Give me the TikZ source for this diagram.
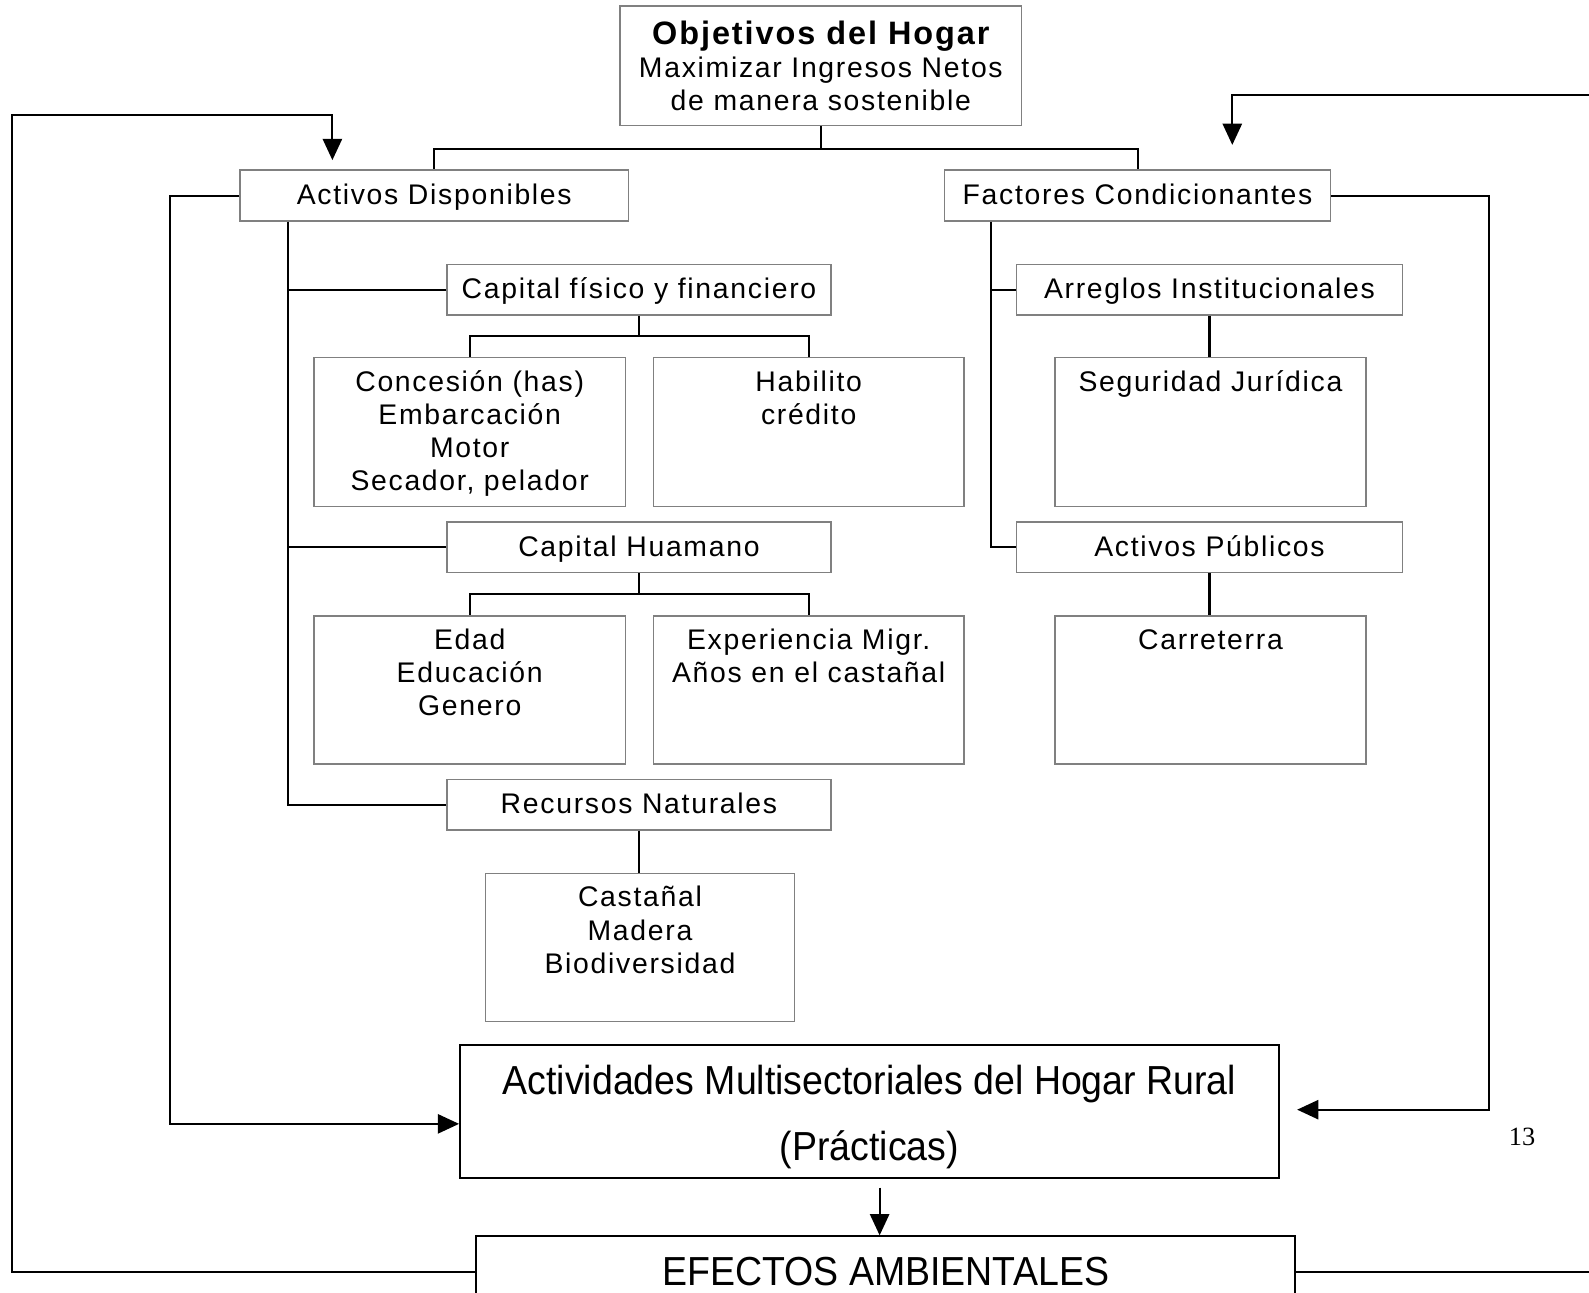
\documentclass[tikz,border=0pt]{standalone}
\usepackage{fontspec}
\setmainfont{Liberation Sans}
\newfontfamily\boxfont{Liberation Sans}[LetterSpace=6]
\newfontfamily\bigfont{Liberation Sans}[FakeStretch=0.925]
\newfontfamily\pagefont{Liberation Serif}
\usetikzlibrary{arrows.meta}
\tikzset{
	caja/.style={draw=gray, line width=1.5pt, inner sep=0pt, minimum height=50pt,
			font=\boxfont\fontsize{28}{32.7}\selectfont},
	cajauna/.style={caja, text height=22pt, text depth=4pt},
	cajabaja/.style={draw=black, line width=2pt, inner sep=0pt,
			font=\bigfont\fontsize{40}{65}\selectfont},
	flecha/.style={-{Triangle[length=21pt,width=19pt]}}
}
\newcommand{\cajaalta}[3]{\parbox[c][#2][t]{#1}{\centering\vspace*{10pt}\strut #3}}

\begin{document}
\begin{tikzpicture}[x=1pt, y=-1pt, line width=2pt]
			\useasboundingbox (0,0) rectangle (1568,1275);

			% Draw the objective box
			\node[caja, align=center, minimum width=396pt, minimum height=118pt] (obj) at (810,65)
				{{\bfseries\fontsize{32}{33}\selectfont Objetivos del Hogar}\\Maximizar Ingresos Netos\\de manera sostenible};

			% Draw the two main branches
			\node[cajauna, minimum width=383pt] (actd) at (428.5,193) {Activos Disponibles};
			\node[cajauna, minimum width=381pt] (fact) at (1122.5,193) {Factores Condicionantes};

			% Draw the assets
			\node[cajauna, minimum width=379pt] (capf) at (630.5,286) {Capital físico y financiero};
			\node[caja] (conc) at (463.5,426.5) {\cajaalta{307pt}{147pt}{Concesión (has)\\Embarcación\\Motor\\Secador, pelador}};
			\node[caja] (habi) at (798,426.5) {\cajaalta{306pt}{147pt}{Habilito\\crédito}};
			\node[cajauna, minimum width=379pt] (caph) at (630.5,540) {Capital Huamano};
			\node[caja] (edad) at (463.5,681) {\cajaalta{307pt}{146pt}{Edad\\Educación\\Genero}};
			\node[caja] (expe) at (798,681) {\cajaalta{306pt}{146pt}{Experiencia Migr.\\Años en el castañal}};
			\node[cajauna, minimum width=379pt] (recn) at (630.5,794) {Recursos Naturales};
			\node[caja] (cast) at (631.5,935) {\cajaalta{305pt}{146pt}{Castañal\\Madera\\Biodiversidad}};

			% Draw the conditioning factors
			\node[cajauna, minimum width=381pt] (arre) at (1193.5,286) {Arreglos Institucionales};
			\node[caja] (segu) at (1194.5,426.5) {\cajaalta{307pt}{147pt}{Seguridad Jurídica}};
			\node[cajauna, minimum width=381pt] (actp) at (1193.5,540) {Activos Públicos};
			\node[caja] (carr) at (1194.5,681) {\cajaalta{307pt}{146pt}{Carreterra}};

			% Draw the bottom boxes
			\node[cajabaja, align=center, minimum width=808pt, minimum height=131pt] (acti) at (858,1096.5)
				{\rule{0pt}{40pt}Actividades Multisectoriales del Hogar Rural\\(Prácticas)};
			\node[cajabaja, minimum width=808pt, minimum height=70pt] (efec) at (874,1255) {EFECTOS AMBIENTALES};

			% Draw the page number
			\node[font=\pagefont\fontsize{26}{30}\selectfont] (pag) at (1502,1122) {13};

			% Draw the connectors of the objective
			\draw (obj.south) -- ++(0,22) -| (actd.north);
			\draw (obj.south) -- ++(0,22) -| (fact.north);

			% Draw the left trunk
			\coordinate (tl) at (284,794);
			\draw (actd.south -| tl) -- (tl) -- (recn.west);
			\draw (capf.west) -- (capf.west -| tl);
			\draw (caph.west) -- (caph.west -| tl);
			\draw (capf.south) -- ++(0,20) -| (conc.north);
			\draw (capf.south) -- ++(0,20) -| (habi.north);
			\draw (caph.south) -- ++(0,20) -| (edad.north);
			\draw (caph.south) -- ++(0,20) -| (expe.north);
			\draw (recn.south) -- (recn.south |- cast.north);

			% Draw the right trunk
			\coordinate (tr) at (978,540);
			\draw (fact.south -| tr) -- (tr) -- (actp.west);
			\draw (arre.west) -- (arre.west -| tr);
			\draw (arre.south) -- (arre.south |- segu.north);
			\draw (actp.south) -- (actp.south |- carr.north);

			% Draw the feedback arrows
			\coordinate (vueltaI) at (12,113);
			\coordinate (puntaI) at (328,158);
			\draw[flecha] (efec.west) -| (vueltaI) -| (puntaI);
			\coordinate (vueltaD) at (1580,94);
			\coordinate (puntaD) at (1216,143);
			\draw[flecha] (efec.east) -| (vueltaD) -| (puntaD);

			% Draw the arrows into the activities
			\coordinate (ladoI) at (168,1109);
			\draw[flecha] (actd.west) -| (ladoI) -- (ladoI -| acti.west);
			\coordinate (ladoD) at (1469,1095);
			\coordinate (puntaA) at (1280,1095);
			\draw[flecha] (fact.east) -| (ladoD) -- (puntaA);
			\draw[flecha] ([xshift=10pt,yshift=-9pt]acti.south) -- ([xshift=-6pt]efec.north);

		\end{tikzpicture}
\end{document}
